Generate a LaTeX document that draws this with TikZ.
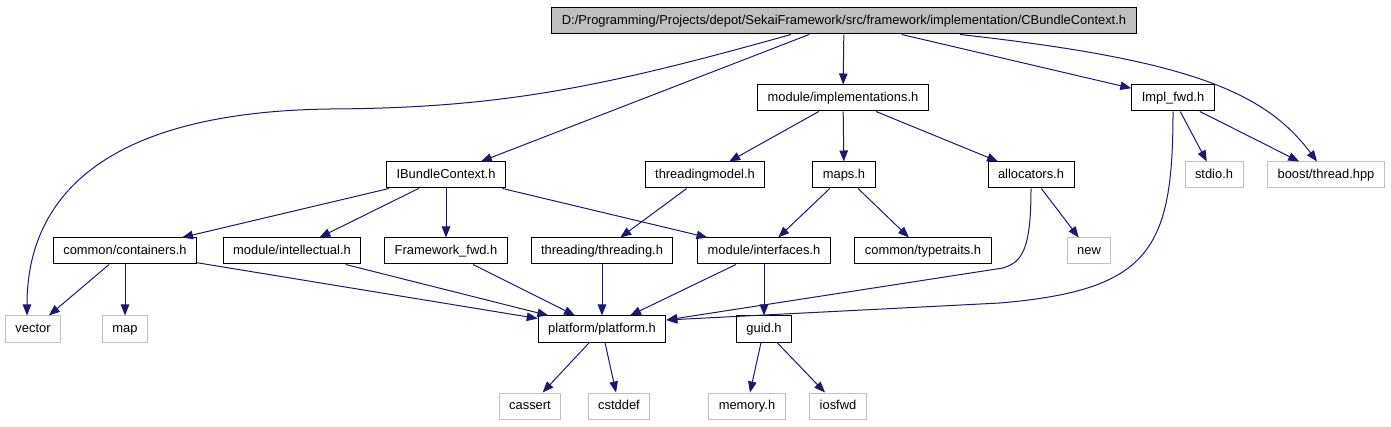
\documentclass[tikz,border=0pt]{standalone}
\usepackage{fontspec}
\setmainfont{Liberation Sans}
\usetikzlibrary{arrows.meta}
\definecolor{navy}{RGB}{25,25,112}
\begin{document}
\begin{tikzpicture}[x=1pt,y=-1pt,
        every node/.style={draw,line width=1pt,font=\fontsize{12.9}{14}\selectfont,inner xsep=10pt,inner ysep=0pt,minimum height=26pt,text height=9.5pt,text depth=2.5pt},
        sys/.style={draw=black!25,line width=1pt},
        top/.style={fill=black!25},
        inc/.style={draw=navy,line width=1pt,-{Triangle[length=11pt,width=8.5pt]}}]
        \useasboundingbox (0,0) rectangle (1391,427);
        \node[top] (root) at (844,21) {D:/Programming/Projects/depot/SekaiFramework/src/framework/implementation/CBundleContext.h};
        \node (impl)    at (843,98)  {module/implementations.h};
        \node (implfwd) at (1173,98) {Impl\_fwd.h};
        \node (ibundle) at (446,175) {IBundleContext.h};
        \node (tmodel)  at (705,175) {threadingmodel.h};
        \node (maps)    at (844,175) {maps.h};
        \node (alloc)   at (1031,175) {allocators.h};
        \node[sys] (stdio) at (1214,175) {stdio.h};
        \node[sys] (boost) at (1326,175) {boost/thread.hpp};
        \node (cont)    at (125,251) {common/containers.h};
        \node (intel)   at (292,251) {module/intellectual.h};
        \node (fwfwd)   at (446,251) {Framework\_fwd.h};
        \node (thread)  at (602,251) {threading/threading.h};
        \node (iface)   at (764,251) {module/interfaces.h};
        \node (traits)  at (923,251) {common/typetraits.h};
        \node[sys] (new) at (1089,251) {new};
        \node[sys] (vector) at (33,329) {vector};
        \node[sys] (map)    at (125,329) {map};
        \node (platform) at (602,329) {platform/platform.h};
        \node (guid)     at (764,329) {guid.h};
        \node[sys] (cassert) at (530,406) {cassert};
        \node[sys] (cstddef) at (619,406) {cstddef};
        \node[sys] (memory)  at (747,406) {memory.h};
        \node[sys] (iosfwd)  at (838,406) {iosfwd};
        % from the root file
        \draw[inc] ([xshift=-53pt]root.south) .. controls (600,88) and (500,108) .. (330,109)
            .. controls (100,112) and (27,200) .. ([xshift=-6pt]vector.north);
        \draw[inc] (root) -- (ibundle);
        \draw[inc] (root) -- (impl);
        \draw[inc] (root) -- (implfwd);
        \draw[inc] ([xshift=116pt]root.south) .. controls (1190,60) and (1265,92) .. ([xshift=-9pt]boost.north);
        % second row
        \draw[inc] (impl) -- (tmodel);
        \draw[inc] (impl) -- (maps);
        \draw[inc] (impl) -- (alloc);
        \draw[inc] (implfwd) -- (stdio);
        \draw[inc] (implfwd) -- (boost);
        \draw[inc] (implfwd.south) .. controls (1173,250) and (1150,290) .. (1000,303) -- ([yshift=9pt]platform.east);
        % third row
        \draw[inc] (ibundle) -- (cont);
        \draw[inc] (ibundle) -- (intel);
        \draw[inc] (ibundle) -- (fwfwd);
        \draw[inc] (ibundle) -- (iface);
        \draw[inc] (tmodel) -- (thread);
        \draw[inc] (maps) -- (iface);
        \draw[inc] (maps) -- (traits);
        \draw[inc] (alloc) -- (new);
        \draw[inc] (alloc.south) .. controls (1031,250) and (1022,262) .. (1003,268) -- ([yshift=9pt]platform.east);
        % fourth row
        \draw[inc] (cont) -- (vector);
        \draw[inc] (cont) -- (map);
        \draw[inc] (cont) -- (platform);
        \draw[inc] (intel) -- (platform);
        \draw[inc] (fwfwd) -- (platform);
        \draw[inc] (thread) -- (platform);
        \draw[inc] (iface) -- (platform);
        \draw[inc] (iface) -- (guid);
        % last row
        \draw[inc] (platform) -- (cassert);
        \draw[inc] (platform) -- (cstddef);
        \draw[inc] (guid) -- (memory);
        \draw[inc] (guid) -- (iosfwd);
    \end{tikzpicture}
\end{document}
